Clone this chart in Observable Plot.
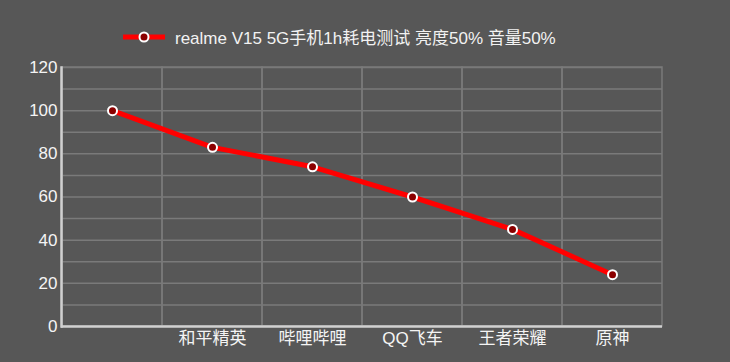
<!DOCTYPE html>
<html><head><meta charset="utf-8">
<script src="https://cdn.jsdelivr.net/npm/d3@7"></script>
<script src="https://cdn.jsdelivr.net/npm/@observablehq/plot@0.6"></script>
<style>
html,body{margin:0;padding:0;background:#575757;}
#legend{height:55px;position:relative;font-family:"Liberation Sans","Noto Sans CJK SC",sans-serif;font-size:17px;color:#f2f2f2;}
#legend .item{position:absolute;left:123px;top:24px;display:flex;align-items:center;white-space:nowrap;}
#legend svg{margin-right:10px;}
</style>
</head><body>
<div id="legend"><div class="item"><svg width="42" height="14"><line x1="0" y1="7" x2="42" y2="7" stroke="#ff0000" stroke-width="5"/><circle cx="21" cy="7" r="4.5" fill="#8b0000" stroke="#fff" stroke-width="2"/></svg><span id="title"></span></div></div>
<div id="chart"></div>
<script>
const seriesName = "realme V15 5G手机1h耗电测试 亮度50% 音量50%";
const categories = ["", "和平精英", "哔哩哔哩", "QQ飞车", "王者荣耀", "原神"];
const values = [100, 83, 74, 60, 45, 24];
const yTicks = [0, 20, 40, 60, 80, 100, 120];
const gridValues = [10, 20, 30, 40, 50, 60, 70, 80, 90, 100, 110, 120];

document.getElementById("title").textContent = seriesName;
const data = categories.map((c, i) => ({cat: c, v: values[i]}));

const chart = Plot.plot({
  width: 730,
  height: 307,
  marginTop: 12,
  marginBottom: 36,
  marginLeft: 61,
  marginRight: 68,
  style: {background: "#575757", color: "#f4f4f4", fontFamily: "Liberation Sans, Noto Sans CJK SC, sans-serif", fontSize: "17px"},
  x: {type: "band", domain: categories, padding: 0, label: null},
  y: {domain: [0, 120], label: null},
  marks: [
    Plot.ruleY(gridValues, {stroke: "#7a7a7a", strokeWidth: 1.5}),
    Plot.barY(categories, {x: d => d, y1: 0, y2: 120, fill: "none", stroke: "#7a7a7a", strokeWidth: 1.5}),
    Plot.axisX(categories.filter(c => c !== ""), {tickSize: 0, tickPadding: 5, fontSize: 17, label: null}),
    Plot.axisY(yTicks, {tickSize: 0, tickPadding: 4, fontSize: 17, label: null}),
    Plot.frame({anchor: "left", stroke: "#d0d0d0", strokeWidth: 2.5}),
    Plot.ruleY([0], {stroke: "#d0d0d0", strokeWidth: 2.5}),
    Plot.lineY(data, {x: "cat", y: "v", stroke: "#ff0000", strokeWidth: 5}),
    Plot.dot(data, {x: "cat", y: "v", r: 4.5, fill: "#8b0000", stroke: "#ffffff", strokeWidth: 2})
  ]
});
document.getElementById("chart").appendChild(chart);
</script>
</body></html>
